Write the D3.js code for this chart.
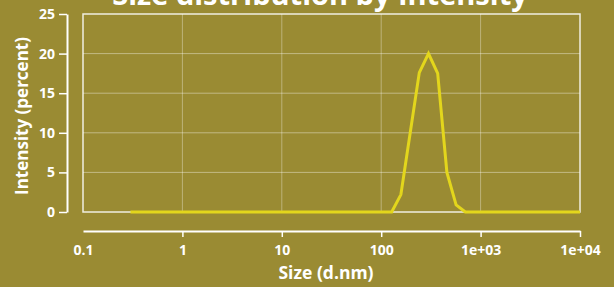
<!DOCTYPE html>
<html>
<head>
<meta charset="utf-8">
<script src="https://cdn.jsdelivr.net/npm/d3@7"></script>
<style>
  body { margin: 0; background: #9a8b33; }
  svg { display: block; font-family: "Open Sans", sans-serif; font-weight: 700; }
</style>
</head>
<body>
<svg id="chart"></svg>
<script>
// size bins (d.nm) and intensity (%)
const sizes = [0.3, 127.5, 157.8, 195.3, 241.7, 299, 370, 458, 567, 702, 10000];
const intensity = [0, 0, 2.2, 9.9, 17.6, 20.0, 17.5, 5.0, 0.9, 0, 0];
const xTicks = [0.1, 1, 10, 100, 1000, 10000];
const xTickLabels = ['0.1', '1', '10', '100', '1e+03', '1e+04'];
const yTicks = [0, 5, 10, 15, 20, 25];

const width = 614;
const height = 287;
const plotL = 83, plotR = 580, plotT = 14, plotB = 212;

const x = d3.scaleLog().domain([0.1, 10000]).range([plotL, plotR]);
const y = d3.scaleLinear().domain([0, 25]).range([plotB, plotT]);

const svg = d3.select('#chart')
  .attr('width', width)
  .attr('height', height);

svg.append('rect')
  .attr('width', width)
  .attr('height', height)
  .attr('fill', '#9a8b33');

// grid
svg.append('g')
  .selectAll('line')
  .data(yTicks.slice(1, -1))
  .enter()
  .append('line')
  .attr('x1', plotL).attr('x2', plotR)
  .attr('y1', (d) => y(d)).attr('y2', (d) => y(d))
  .attr('stroke', 'rgba(255,255,255,0.4)')
  .attr('stroke-width', 1);
svg.append('g')
  .selectAll('line')
  .data(xTicks.slice(1, -1))
  .enter()
  .append('line')
  .attr('x1', (d) => x(d)).attr('x2', (d) => x(d))
  .attr('y1', plotT).attr('y2', plotB)
  .attr('stroke', 'rgba(255,255,255,0.35)')
  .attr('stroke-width', 1);

// plot border
svg.append('rect')
  .attr('x', plotL).attr('y', plotT)
  .attr('width', plotR - plotL).attr('height', plotB - plotT)
  .attr('fill', 'none')
  .attr('stroke', 'rgba(255,255,255,0.85)')
  .attr('stroke-width', 1.5);

// data line
const line = d3.line()
  .x((d, i) => x(sizes[i]))
  .y((d) => y(d));
svg.append('path')
  .datum(intensity)
  .attr('d', line)
  .attr('fill', 'none')
  .attr('stroke', '#e3d61c')
  .attr('stroke-width', 3)
  .attr('stroke-linejoin', 'miter');

// y axis
const yAxis = d3.axisLeft(y).tickValues(yTicks).tickSize(8).tickSizeOuter(0).tickPadding(4);
const gy = svg.append('g')
  .attr('transform', 'translate(67,0)')
  .call(yAxis);
// x axis
const xAxis = d3.axisBottom(x).tickValues(xTicks)
  .tickFormat((d, i) => xTickLabels[i])
  .tickSize(6).tickSizeOuter(0).tickPadding(8);
const gx = svg.append('g')
  .attr('transform', 'translate(0,231)')
  .call(xAxis);
gx.select('.tick line').remove();

[gx, gy].forEach((g) => {
  g.select('.domain').attr('stroke', '#fff').attr('stroke-width', 2);
  g.selectAll('.tick line').attr('stroke', '#fff').attr('stroke-width', 1.5);
  g.selectAll('.tick text')
    .attr('fill', '#fff')
    .style('font-family', '"Open Sans", sans-serif')
    .style('font-weight', 700)
    .style('font-size', '14px');
});

// titles
svg.append('text')
  .attr('x', 320).attr('y', 5)
  .attr('text-anchor', 'middle')
  .attr('fill', '#fff')
  .style('font-size', '29px')
  .text('Size distribution by Intensity');
svg.append('text')
  .attr('x', 326).attr('y', 279)
  .attr('text-anchor', 'middle')
  .attr('fill', '#fff')
  .style('font-size', '17.5px')
  .text('Size (d.nm)');
svg.append('text')
  .attr('transform', 'translate(28,116) rotate(-90)')
  .attr('text-anchor', 'middle')
  .attr('fill', '#fff')
  .style('font-size', '17px')
  .text('Intensity (percent)');
</script>
</body>
</html>
